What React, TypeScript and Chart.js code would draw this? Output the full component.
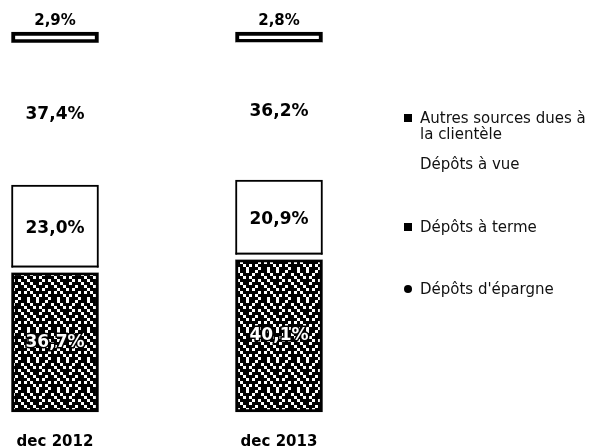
import { useEffect, useRef } from "react";
import { Chart, registerables } from "chart.js";

Chart.register(...registerables);

// ---- data ----
const categories = ["dec 2012", "dec 2013"];
const autresSources = [2.9, 2.8];
const depotsVue = [37.4, 36.2];
const depotsTerme = [23.0, 20.9];
const depotsEpargne = [36.7, 40.1];
const legendNames = [
  "Autres sources dues à la clientèle",
  "Dépôts à vue",
  "Dépôts à terme",
  "Dépôts d'épargne",
];

const FONT = "'DejaVu Sans', 'Liberation Sans', sans-serif";

function fmt(v: number) {
  return v.toFixed(1).replace(".", ",") + "%";
}

function makePattern(): CanvasPattern | string {
  const rows = [
    "1101101110",
    "0111011011",
    "1010111101",
    "1111010110",
    "0110111011",
    "1011101101",
    "1101011110",
    "0111110101",
    "1010101111",
    "1101110110",
  ];
  const cell = 3;
  const c = document.createElement("canvas");
  c.width = rows[0].length * cell;
  c.height = rows.length * cell;
  const g = c.getContext("2d");
  if (!g) return "#333";
  g.fillStyle = "#fff";
  g.fillRect(0, 0, c.width, c.height);
  g.fillStyle = "#000";
  rows.forEach((r, y) => {
    for (let x = 0; x < r.length; x++) {
      if (r[x] === "1") g.fillRect(x * cell, y * cell, cell, cell);
    }
  });
  return g.createPattern(c, "repeat") || "#333";
}

const gapPlugin = {
  id: "segGap",
  afterDatasetsDraw(chart: any) {
    const ctx = chart.ctx;
    chart.data.datasets.forEach((ds: any, di: number) => {
      if (!ds.gapBelow) return;
      const meta = chart.getDatasetMeta(di);
      meta.data.forEach((el: any) => {
        const { x, base, width } = el.getProps(["x", "base", "width"], true);
        const gap = ds.gapBelow;
        ctx.save();
        ctx.fillStyle = "#fff";
        ctx.fillRect(x - width / 2 - 1, base - gap, width + 2, gap);
        ctx.fillStyle = "#000";
        ctx.fillRect(x - width / 2, base - gap - 2, width, 2);
        ctx.restore();
      });
    });
  },
};

const labelPlugin = {
  id: "segLabels",
  afterDatasetsDraw(chart: any) {
    const ctx = chart.ctx;
    chart.data.datasets.forEach((ds: any, di: number) => {
      const meta = chart.getDatasetMeta(di);
      meta.data.forEach((el: any, i: number) => {
        const v = ds.data[i];
        const { x, y, base } = el.getProps(["x", "y", "base"], true);
        ctx.save();
        ctx.textAlign = "center";
        ctx.textBaseline = "middle";
        if (ds.labelAbove) {
          ctx.font = `bold 15px ${FONT}`;
          ctx.fillStyle = "#000";
          ctx.fillText(fmt(v), x, y - 11);
        } else {
          ctx.font = `bold 17px ${FONT}`;
          if (ds.labelColor) {
            ctx.lineWidth = 3;
            ctx.strokeStyle = "#000";
            ctx.strokeText(fmt(v), x, (y + base) / 2);
          }
          ctx.fillStyle = ds.labelColor || "#000";
          ctx.fillText(fmt(v), x, (y + base) / 2);
        }
        ctx.restore();
      });
    });
  },
};

function ChartCanvas() {
  const ref = useRef<HTMLCanvasElement | null>(null);
  useEffect(() => {
    document.body.style.margin = "0";
    const canvas = ref.current;
    if (!canvas) return;
    const pattern = makePattern();
    const chart = new Chart(canvas, {
      type: "bar",
      data: {
        labels: categories,
        datasets: [
          {
            label: legendNames[3],
            data: depotsEpargne,
            backgroundColor: pattern as any,
            borderColor: "#000",
            borderWidth: 3,
            borderSkipped: false,
            labelColor: "#fff",
          } as any,
          {
            label: legendNames[2],
            data: depotsTerme,
            backgroundColor: "#fff",
            borderColor: "#000",
            borderWidth: 2,
            borderSkipped: false,
            gapBelow: 5,
          } as any,
          {
            label: legendNames[1],
            data: depotsVue,
            backgroundColor: "#fff",
            borderWidth: 0,
          } as any,
          {
            label: legendNames[0],
            data: autresSources,
            backgroundColor: "#fff",
            borderColor: "#000",
            borderWidth: 4,
            borderSkipped: false,
            labelAbove: true,
          } as any,
        ],
      },
      options: {
        responsive: false,
        animation: false,
        events: [],
        datasets: { bar: { barThickness: 87, clip: false as any } },
        layout: { padding: { left: 55, right: 325, top: 32, bottom: -25 } },
        plugins: {
          legend: { display: false },
          tooltip: { enabled: false },
        },
        scales: {
          x: {
            stacked: true,
            offset: false,
            grid: { display: false, drawTicks: false },
            border: { display: false },
            ticks: {
              padding: 21,
              color: "#000",
              font: { family: FONT, size: 15, weight: "bold" },
              maxRotation: 0,
            },
            afterFit: (s: any) => {
              s.paddingLeft = 0;
              s.paddingRight = 0;
            },
          } as any,
          y: {
            stacked: true,
            display: false,
            min: 0,
            max: 100,
          },
        },
      },
      plugins: [gapPlugin, labelPlugin],
    });
    return () => chart.destroy();
  }, []);
  return <canvas ref={ref} width={604} height={447} style={{ position: "absolute", left: 0, top: 0 }} />;
}

const legendItems = [
  { text: ["Autres sources dues à", "la clientèle"], marker: "square", top: 110 },
  { text: [legendNames[1]], marker: "none", top: 156 },
  { text: [legendNames[2]], marker: "square", top: 219 },
  { text: [legendNames[3]], marker: "circle", top: 281 },
];

export default function App() {
  return (
    <div style={{ position: "relative", width: 604, height: 447, background: "#fff", overflow: "hidden" }}>
      <ChartCanvas />
      {legendItems.map((it, i) => (
        <div
          key={i}
          style={{
            position: "absolute",
            left: 404,
            top: it.top,
            fontFamily: FONT,
            fontSize: 15,
            lineHeight: "16px",
            color: "#111",
            whiteSpace: "nowrap",
          }}
        >
          {it.marker !== "none" && (
            <span
              style={{
                position: "absolute",
                left: 0,
                top: 4,
                width: 8,
                height: 8,
                background: "#000",
                borderRadius: it.marker === "circle" ? "50%" : 0,
              }}
            />
          )}
          <div style={{ marginLeft: 16 }}>
            {it.text.map((t, j) => (
              <div key={j}>{t}</div>
            ))}
          </div>
        </div>
      ))}
    </div>
  );
}
